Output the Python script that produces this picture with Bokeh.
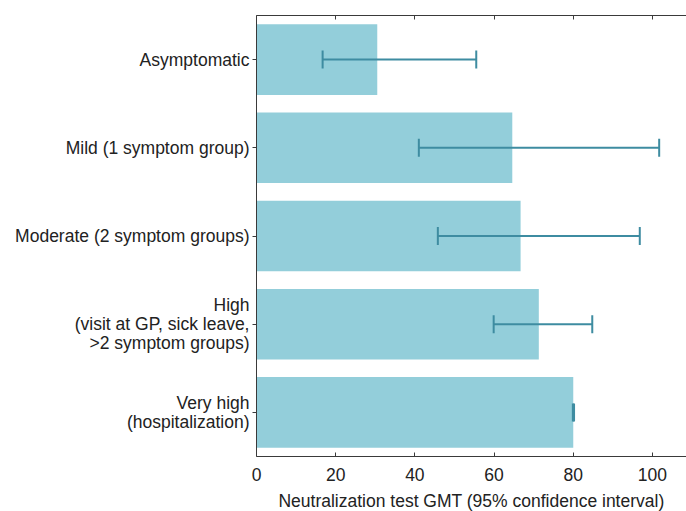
from bokeh.plotting import figure
from bokeh.models import ColumnDataSource, FactorRange, Range1d, LinearAxis, Whisker, TeeHead, FixedTicker
from bokeh.embed import file_html
from bokeh.resources import INLINE

categories = [
    "Asymptomatic",
    "Mild (1 symptom group)",
    "Moderate (2 symptom groups)",
    "High\n(visit at GP, sick leave,\n>2 symptom groups)",
    "Very high\n(hospitalization)",
]
gmt = [30.5, 64.6, 66.7, 71.3, 80.0]
ci_low = [16.7, 41.0, 45.8, 59.9, 79.9]
ci_high = [55.5, 101.7, 96.8, 84.8, 80.2]
x_ticks = [0, 20, 40, 60, 80, 100]

src = ColumnDataSource(dict(cat=categories, gmt=gmt, lo=ci_low, hi=ci_high))

FONT = "Liberation Sans"
TXT = "#222222"
AX = "#3a3a3a"
FS = "17.5px"

p = figure(
    y_range=FactorRange(*list(reversed(categories)), range_padding=0),
    x_range=Range1d(0, 108.6),
    frame_width=430, frame_height=441,
    min_border_left=256, min_border_right=0, min_border_top=15, min_border_bottom=0,
    output_backend="svg", toolbar_location=None,
)
p.outline_line_color = None
p.grid.visible = False

p.hbar(y="cat", right="gmt", left=0, height=0.8, source=src,
       fill_color="#93CEDA", line_color=None)

w = Whisker(source=src, base="cat", lower="lo", upper="hi", dimension="width",
            line_color="#3E8CA1", line_width=2, level="overlay",
            lower_head=TeeHead(size=18, line_color="#3E8CA1", line_width=2),
            upper_head=TeeHead(size=18, line_color="#3E8CA1", line_width=2))
p.add_layout(w)

xa = p.xaxis[0]
xa.ticker = FixedTicker(ticks=x_ticks)
xa.minor_tick_line_color = None
xa.major_tick_in = 4
xa.major_tick_out = 0
xa.axis_line_color = AX
xa.major_tick_line_color = AX
xa.major_label_text_font = FONT
xa.major_label_text_font_size = FS
xa.major_label_text_color = TXT
xa.major_label_standoff = 11
xa.axis_label = "Neutralization test GMT (95% confidence interval)"
xa.axis_label_text_font = FONT
xa.axis_label_text_font_size = FS
xa.axis_label_text_font_style = "normal"
xa.axis_label_text_color = TXT
xa.axis_label_standoff = 7

ya = p.yaxis[0]
ya.major_tick_in = 0
ya.major_tick_out = 4
ya.axis_line_color = AX
ya.major_tick_line_color = AX
ya.major_label_text_font = FONT
ya.major_label_text_font_size = FS
ya.major_label_text_color = TXT
ya.major_label_standoff = 3
ya.major_label_text_line_height = 0.95

top = LinearAxis(ticker=FixedTicker(ticks=x_ticks))
top.major_label_text_font_size = "0px"
top.major_label_text_color = None
top.major_tick_in = 4
top.major_tick_out = 0
top.minor_tick_line_color = None
top.axis_line_color = AX
top.major_tick_line_color = AX
top.major_label_standoff = 0
p.add_layout(top, "above")

open("out.html", "w").write(file_html(p, INLINE))
